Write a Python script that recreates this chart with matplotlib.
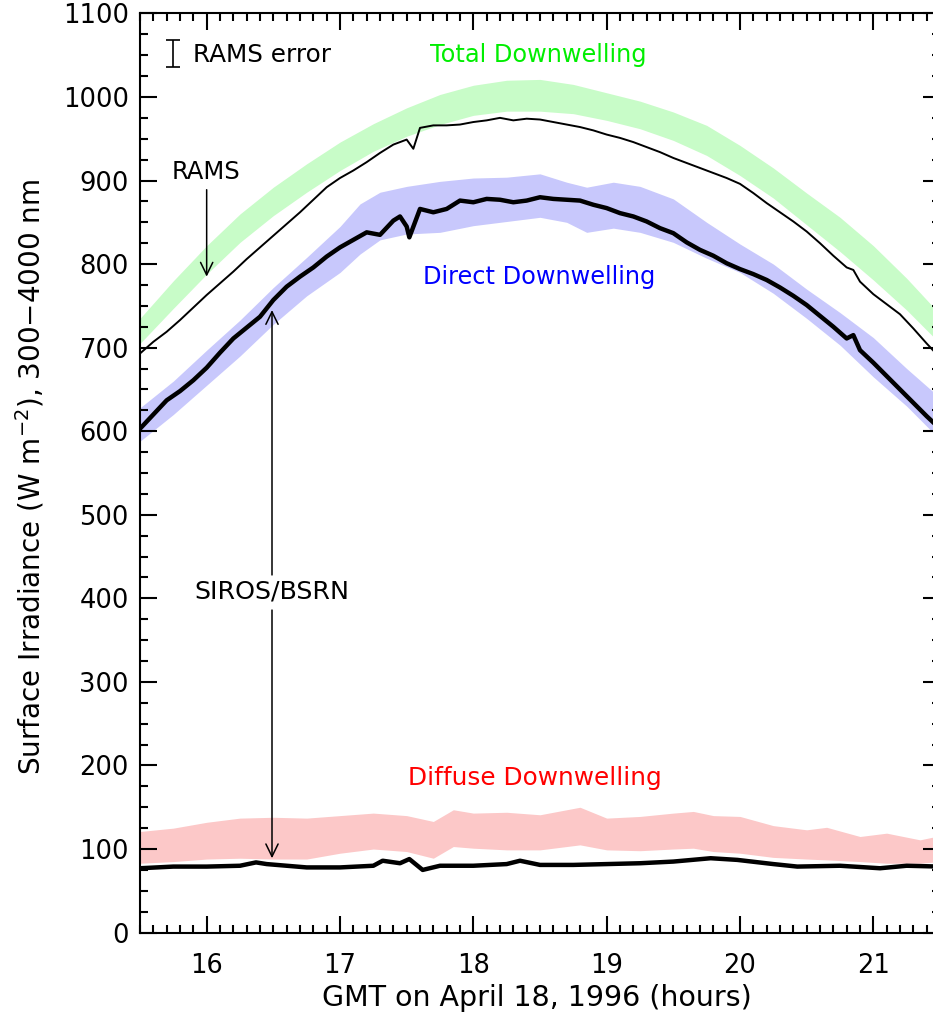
import matplotlib
matplotlib.use("Agg")
import matplotlib.pyplot as plt

# ---------------- data ----------------
# Measured total downwelling (SIROS/BSRN, thin black line)
t_total = [15.5, 15.6, 15.7, 15.8, 15.9, 16.0, 16.1, 16.2, 16.3, 16.4, 16.5,
           16.6, 16.7, 16.8, 16.9, 17.0, 17.1, 17.2, 17.3, 17.4, 17.5, 17.55,
           17.6, 17.7, 17.8, 17.9, 18.0, 18.1, 18.2, 18.3, 18.4, 18.5, 18.6,
           18.7, 18.8, 18.9, 19.0, 19.1, 19.2, 19.3, 19.4, 19.5, 19.6, 19.7,
           19.8, 19.9, 20.0, 20.1, 20.2, 20.3, 20.4, 20.5, 20.6, 20.7, 20.8,
           20.85, 20.9, 21.0, 21.1, 21.2, 21.3, 21.4, 21.5]
total_meas = [693, 707, 719, 733, 748, 763, 777, 791, 806, 820, 834,
              848, 862, 877, 892, 903, 912, 922, 933, 943, 949, 938,
              963, 966, 966, 967, 970, 972, 975, 972, 974, 973, 970,
              967, 964, 960, 955, 951, 946, 940, 934, 927, 921, 915,
              909, 903, 896, 885, 873, 862, 851, 839, 825, 810, 796,
              793, 779, 764, 752, 740, 723, 705, 688]

# Measured direct downwelling (thick black line)
t_direct = [15.5, 15.6, 15.7, 15.8, 15.9, 16.0, 16.1, 16.2, 16.3, 16.4, 16.5,
            16.6, 16.7, 16.8, 16.9, 17.0, 17.1, 17.2, 17.3, 17.4, 17.45, 17.5,
            17.52, 17.6, 17.7, 17.8, 17.9, 18.0, 18.1, 18.2, 18.3, 18.4, 18.5,
            18.6, 18.7, 18.8, 18.9, 19.0, 19.1, 19.2, 19.3, 19.4, 19.5, 19.6,
            19.7, 19.8, 19.9, 20.0, 20.1, 20.2, 20.3, 20.4, 20.5, 20.6, 20.7,
            20.8, 20.85, 20.9, 21.0, 21.1, 21.2, 21.3, 21.4, 21.5]
direct_meas = [603, 620, 637, 648, 661, 676, 694, 711, 724, 737, 757,
               773, 785, 796, 809, 820, 829, 838, 835, 852, 857, 845,
               832, 866, 862, 866, 876, 874, 878, 877, 874, 876, 880,
               878, 877, 876, 871, 867, 861, 857, 851, 843, 837, 826,
               817, 810, 801, 794, 788, 781, 772, 762, 751, 738, 725,
               711, 715, 697, 682, 666, 650, 634, 618, 603]

# Measured diffuse downwelling (thick black line near 80)
t_diffuse = [15.5, 15.75, 16.0, 16.25, 16.37, 16.45, 16.6, 16.75, 17.0, 17.25,
             17.32, 17.45, 17.52, 17.62, 17.75, 18.0, 18.25, 18.35, 18.5, 18.75,
             19.0, 19.25, 19.5, 19.78, 19.98, 20.25, 20.43, 20.75, 21.05, 21.25, 21.5]
diffuse_meas = [77, 79, 79, 80, 84, 82, 80, 78, 78, 80,
                86, 83, 88, 75, 80, 80, 82, 86, 81, 81,
                82, 83, 85, 89, 87, 82, 79, 80, 77, 80, 79]

# RAMS total downwelling band (green)
t_band_total = [15.5, 15.75, 16.0, 16.25, 16.5, 16.75, 17.0, 17.25, 17.5, 17.75,
                18.0, 18.25, 18.5, 18.75, 19.0, 19.25, 19.5, 19.75, 20.0, 20.25,
                20.5, 20.75, 21.0, 21.25, 21.5]
total_lo = [705, 747, 788, 826, 858, 886, 912, 935, 953, 967,
            978, 983, 983, 980, 972, 962, 948, 930, 906, 879,
            847, 815, 781, 745, 705]
total_hi = [735, 780, 822, 860, 892, 920, 946, 968, 987, 1003,
            1014, 1020, 1021, 1015, 1005, 995, 982, 966, 942, 915,
            885, 856, 822, 783, 740]

# RAMS direct downwelling band (blue)
t_band_direct = [15.5, 15.75, 16.0, 16.25, 16.5, 16.75, 17.0, 17.15, 17.3, 17.5,
                 17.75, 18.0, 18.25, 18.5, 18.7, 18.85, 19.05, 19.25, 19.5, 19.75,
                 20.0, 20.25, 20.5, 20.75, 21.0, 21.25, 21.5]
direct_lo = [588, 620, 655, 690, 728, 762, 790, 812, 829, 836,
             838, 846, 851, 856, 850, 838, 843, 838, 826, 807,
             790, 765, 735, 703, 665, 630, 590]
direct_hi = [628, 660, 697, 733, 772, 808, 845, 872, 886, 893,
             899, 903, 904, 908, 898, 892, 898, 893, 878, 850,
             824, 800, 770, 742, 712, 675, 640]

# RAMS diffuse downwelling band (pink)
t_band_diffuse = [15.5, 15.75, 16.0, 16.25, 16.5, 16.75, 17.0, 17.25, 17.5, 17.7,
                  17.85, 18.0, 18.25, 18.5, 18.8, 19.0, 19.25, 19.5, 19.65, 19.8,
                  20.0, 20.25, 20.5, 20.65, 20.9, 21.1, 21.35, 21.5]
diffuse_lo = [83, 85, 88, 89, 88, 88, 95, 100, 97, 89,
              103, 101, 99, 99, 105, 99, 98, 100, 101, 97,
              95, 90, 88, 87, 85, 83, 83, 85]
diffuse_hi = [121, 125, 132, 137, 138, 137, 140, 143, 140, 133,
              147, 143, 144, 141, 150, 137, 139, 143, 145, 140,
              139, 128, 123, 126, 115, 119, 111, 116]

# RAMS error bar (legend symbol)
err_x = 15.75
err_y = 1052
err_half = 16

x_ticks = [16, 17, 18, 19, 20, 21]
y_ticks = [0, 100, 200, 300, 400, 500, 600, 700, 800, 900, 1000, 1100]

# ---------------- figure ----------------
W, H = 933, 1015
fig = plt.figure(figsize=(W / 100, H / 100), dpi=100)
ax_left, ax_right, ax_top, ax_bot = 140, 940, 13.4, 932.6
ax = fig.add_axes([ax_left / W, 1 - ax_bot / H, (ax_right - ax_left) / W,
                   (ax_bot - ax_top) / H])

c_green_band = "#c8fcc8"
c_blue_band = "#c8c8fc"
c_red_band = "#fcc8c8"

ax.fill_between(t_band_total, total_lo, total_hi, color=c_green_band, lw=0)
ax.fill_between(t_band_direct, direct_lo, direct_hi, color=c_blue_band, lw=0)
ax.fill_between(t_band_diffuse, diffuse_lo, diffuse_hi, color=c_red_band, lw=0)

ax.plot(t_total, total_meas, color="black", lw=1.4)
ax.plot(t_direct, direct_meas, color="black", lw=3.2)
ax.plot(t_diffuse, diffuse_meas, color="black", lw=3.2)

ax.set_xlim(15.5, 21.5)
ax.set_ylim(0, 1100)
ax.set_xticks(x_ticks)
ax.set_yticks(y_ticks)
ax.set_xticks([x / 10 for x in range(155, 216)], minor=True)
ax.set_yticks(list(range(0, 1101, 25)), minor=True)

ax.tick_params(which="both", direction="in", top=True, right=True,
               width=1.5, colors="black")
ax.tick_params(which="major", length=12.5)
ax.tick_params(which="minor", length=6)
ax.tick_params(axis="x", which="major", labelsize=18.5, pad=15)
ax.tick_params(axis="y", which="major", labelsize=18.5, pad=8)
for s in ax.spines.values():
    s.set_linewidth(1.5)

ax.set_xlabel("GMT on April 18, 1996 (hours)", fontsize=20.5, va="center")
ax.xaxis.set_label_coords((537 - ax_left) / (ax_right - ax_left),
                          (ax_bot - 998) / (ax_bot - ax_top))
ax.set_ylabel(r"Surface Irradiance (W m$^{-2}$), 300$-$4000 nm", fontsize=20,
              va="center")
ax.yaxis.set_label_coords((30 - ax_left) / (ax_right - ax_left),
                          (ax_bot - 477) / (ax_bot - ax_top))

# band labels
ax.text(18.49, 1050, "Total Downwelling", color="#00ee00", fontsize=17.3,
        ha="center", va="center")
ax.text(18.49, 785, "Direct Downwelling", color="#0000ff", fontsize=17.3,
        ha="center", va="center")
ax.text(18.46, 185, "Diffuse Downwelling", color="#ff0000", fontsize=17.8,
        ha="center", va="center")

# RAMS error legend
ax.errorbar([err_x], [err_y], yerr=[err_half], color="black", lw=1.2,
            capsize=4.7, capthick=1.2, fmt="none")
ax.text(15.898, 1050, "RAMS error", fontsize=17.8, ha="left", va="center")

# annotations
arrow_kw = dict(arrowstyle="->,head_length=0.45,head_width=0.22",
                color="black", lw=1.1, mutation_scale=20, shrinkA=0, shrinkB=0)
ax.text(15.995, 910, "RAMS", fontsize=17.5, ha="center", va="center")
ax.annotate("", xy=(16.0, 785), xytext=(16.0, 889), arrowprops=arrow_kw)

ax.text(16.49, 408, "SIROS/BSRN", fontsize=18.3, ha="center", va="center")
ax.annotate("", xy=(16.49, 745), xytext=(16.49, 428), arrowprops=arrow_kw)
ax.annotate("", xy=(16.49, 89), xytext=(16.49, 386), arrowprops=arrow_kw)

fig.savefig("out.png", dpi=100)
